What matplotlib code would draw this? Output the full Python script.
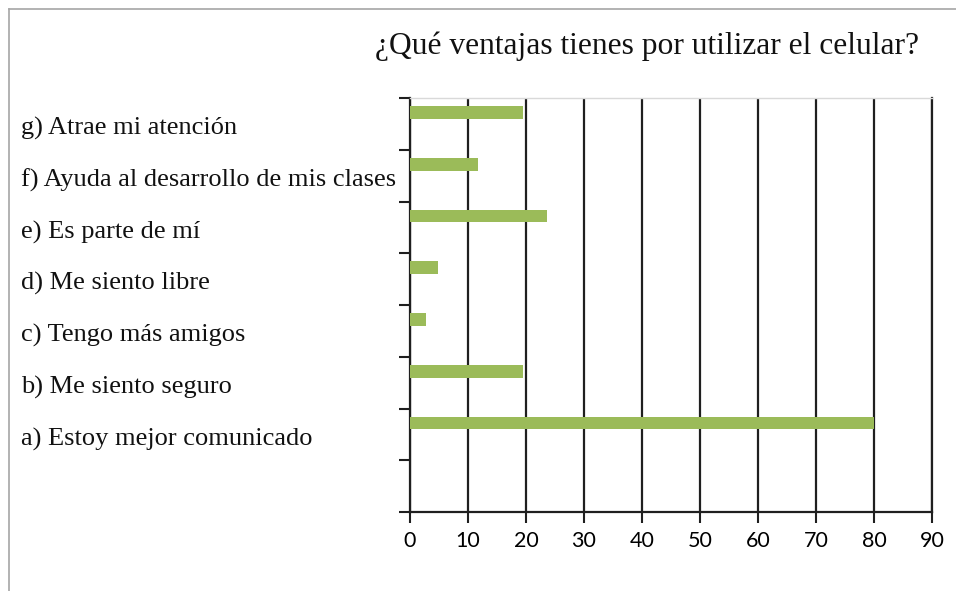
import matplotlib

matplotlib.use("Agg")
import matplotlib.pyplot as plt
from matplotlib.lines import Line2D
from matplotlib.transforms import blended_transform_factory

BAR_GREEN = "#9bbb59"
GRID_DARK = "#1f1f1f"
FRAME_GREY = "#a6a6a6"

TITLE = "¿Qué ventajas tienes por utilizar el celular?"
CATEGORIES = [
    "a) Estoy mejor comunicado",
    "b) Me siento seguro",
    "c) Tengo más amigos",
    "d) Me siento libre",
    "e) Es parte de mí",
    "f) Ayuda al desarrollo de mis clases",
    "g) Atrae mi atención",
]
VALUES = [80, 19.4, 2.8, 4.9, 23.6, 11.8, 19.4]
X_TICKS = [0, 10, 20, 30, 40, 50, 60, 70, 80, 90]

SERIF = "Liberation Serif"
TICK_FONT = "Lato"


def main():
    fig = plt.figure(figsize=(9.56, 5.91), dpi=100)
    fig.patch.set_facecolor("white")
    ax = fig.add_axes([410 / 956, 1 - 512 / 591, 522 / 956, 414 / 591])

    # one empty band at the bottom, then a..g; bars sit in the upper part of each band
    n_bands = len(CATEGORIES) + 1
    band_centers = [i + 1.5 for i in range(len(CATEGORIES))]
    bar_centers = [c + 0.22 for c in band_centers]
    ax.barh(bar_centers, VALUES, height=0.25, color=BAR_GREEN, zorder=3)

    ax.set_xlim(0, 90)
    ax.set_ylim(0, n_bands)
    ax.set_xticks(X_TICKS)
    ax.set_xticklabels([str(t) for t in X_TICKS], fontfamily=TICK_FONT, fontsize=15.5)
    ax.set_yticks(range(n_bands + 1))
    ax.set_yticklabels([])
    ax.tick_params(axis="both", direction="out", length=8, width=1.5, color=GRID_DARK)
    ax.tick_params(axis="x", pad=6)

    ax.grid(axis="x", color=GRID_DARK, linewidth=1.6, zorder=1)
    ax.set_axisbelow(True)
    for side in ("left", "bottom"):
        ax.spines[side].set_color(GRID_DARK)
        ax.spines[side].set_linewidth(1.6)
    ax.spines["top"].set_color("#d9d9d9")
    ax.spines["top"].set_linewidth(1.0)
    ax.spines["right"].set_color(GRID_DARK)
    ax.spines["right"].set_linewidth(1.6)

    label_tf = blended_transform_factory(fig.transFigure, ax.transData)
    for label, yc in zip(CATEGORIES, band_centers):
        ax.text(21 / 956, yc - 0.04, label, transform=label_tf, ha="left", va="center_baseline",
                fontfamily=SERIF, fontsize=19, color="#111111")

    fig.text(647 / 956, 1 - 46 / 591, TITLE, ha="center", va="center",
             fontfamily=SERIF, fontsize=22.7, color="#111111")

    # thin frame around the chart area (top and left edges only are visible)
    fig.add_artist(Line2D([9 / 956, 1.0], [1 - 9 / 591, 1 - 9 / 591], transform=fig.transFigure,
                          color=FRAME_GREY, linewidth=1.2))
    fig.add_artist(Line2D([9 / 956, 9 / 956], [0.0, 1 - 9 / 591], transform=fig.transFigure,
                          color=FRAME_GREY, linewidth=1.2))

    fig.savefig("out.png", facecolor="white")


if __name__ == "__main__":
    main()
